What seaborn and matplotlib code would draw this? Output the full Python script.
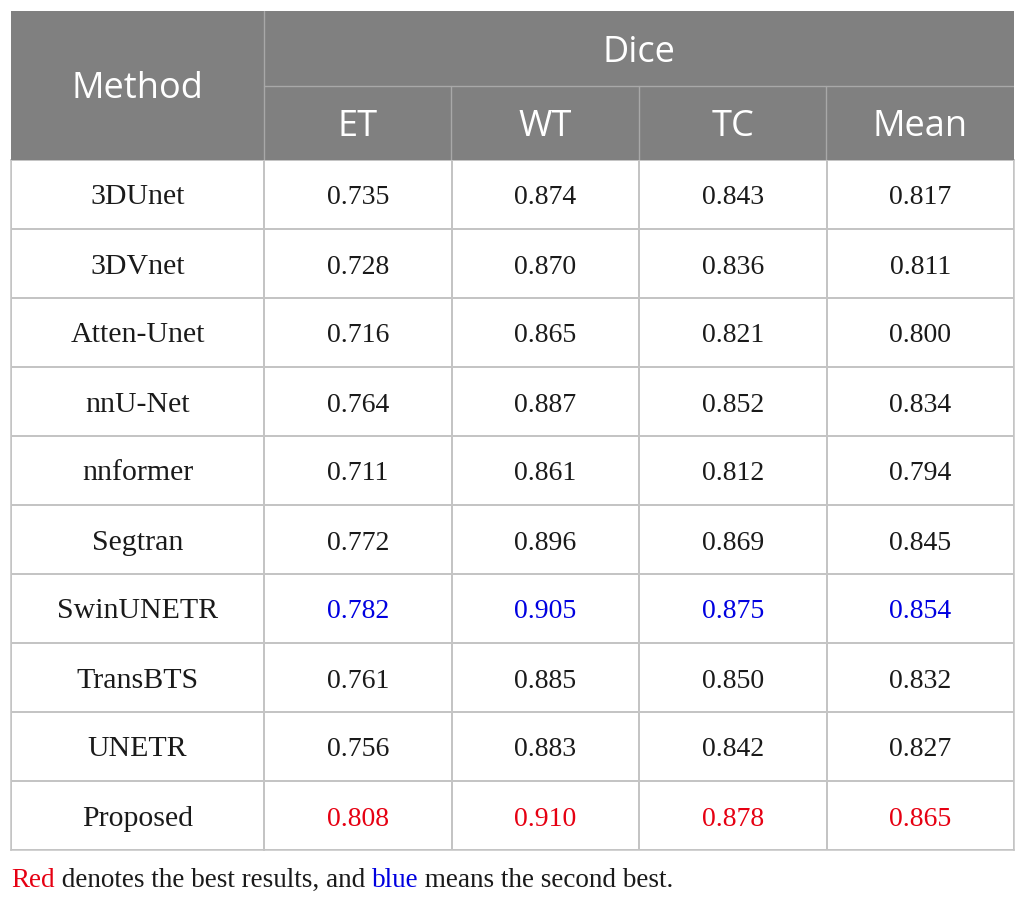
import numpy as np
import pandas as pd
import seaborn as sns
import matplotlib.pyplot as plt
from matplotlib.colors import ListedColormap
from matplotlib.patches import Rectangle

methods = ["3DUnet", "3DVnet", "Atten-Unet", "nnU-Net", "nnformer",
           "Segtran", "SwinUNETR", "TransBTS", "UNETR", "Proposed"]
metrics = ["ET", "WT", "TC", "Mean"]
et = [0.735, 0.728, 0.716, 0.764, 0.711, 0.772, 0.782, 0.761, 0.756, 0.808]
wt = [0.874, 0.870, 0.865, 0.887, 0.861, 0.896, 0.905, 0.885, 0.883, 0.910]
tc = [0.843, 0.836, 0.821, 0.852, 0.812, 0.869, 0.875, 0.850, 0.842, 0.878]
mean = [0.817, 0.811, 0.800, 0.834, 0.794, 0.845, 0.854, 0.832, 0.827, 0.865]
highlight = {"Proposed": "#e60012", "SwinUNETR": "#0000e0"}  # best, second best

df = pd.DataFrame({"ET": et, "WT": wt, "TC": tc, "Mean": mean}, index=methods)

sns.set_theme(style="white")
plt.rcParams["font.family"] = ["Liberation Serif", "DejaVu Serif"]

W, H = 1025, 901
fig = plt.figure(figsize=(W / 100, H / 100), dpi=100)

# table frame in pixels
left, right = 11, 1014
col_split = 264
top, head_mid, head_bot, bot = 11, 86, 160, 850
grid_c = "#c4c4c4"
head_bg = "#808080"
head_line = "#a8a8a8"
head_font = ["Open Sans", "DejaVu Sans"]
txt_c = "#1a1a1a"


def px_axes(x0, y0, x1, y1):
    return fig.add_axes([x0 / W, 1 - y1 / H, (x1 - x0) / W, (y1 - y0) / H])


# header
axh = px_axes(left, top, right, head_bot)
axh.set_xlim(left, right)
axh.set_ylim(head_bot, top)
axh.axis("off")
axh.add_patch(Rectangle((left, top), right - left, head_bot - top,
                        facecolor=head_bg, edgecolor="none"))
col_w = (right - col_split) / len(metrics)
axh.plot([col_split, col_split], [top, head_bot], color=head_line, lw=1.0)
axh.plot([col_split, right], [head_mid, head_mid], color=head_line, lw=1.0)
for k in range(1, len(metrics)):
    x = col_split + k * col_w
    axh.plot([x, x], [head_mid, head_bot], color=head_line, lw=1.0)
hkw = dict(color="white", fontsize=26, ha="center", va="baseline", family=head_font)
axh.text((left + col_split) / 2, (top + head_bot) / 2 + 13, "Method", **hkw)
axh.text((col_split + right) / 2, (top + head_mid) / 2 + 13, "Dice", **hkw)
for k, m in enumerate(metrics):
    axh.text(col_split + (k + 0.5) * col_w, (head_mid + head_bot) / 2 + 13, m, **hkw)

# body
white = ListedColormap(["white"])
row_h = (bot - head_bot) / len(methods)
dy = 10 / row_h  # baseline offset from row centre

axm = px_axes(left, head_bot, col_split, bot)
sns.heatmap(np.zeros((len(methods), 1)), ax=axm, cmap=white, cbar=False,
            linewidths=1.1, linecolor=grid_c, xticklabels=False, yticklabels=False)
for i, name in enumerate(methods):
    axm.text(0.5, i + 0.5 + dy, name, ha="center", va="baseline", fontsize=21.5, color=txt_c)

axv = px_axes(col_split, head_bot, right, bot)
sns.heatmap(df, ax=axv, cmap=white, cbar=False, linewidths=1.1, linecolor=grid_c,
            xticklabels=False, yticklabels=False)
for i, name in enumerate(methods):
    c = highlight.get(name, txt_c)
    for j, m in enumerate(metrics):
        axv.text(j + 0.5, i + 0.5 + dy, f"{df.loc[name, m]:.3f}", ha="center",
                 va="baseline", fontsize=20, color=c)

for a in (axm, axv):
    for s in a.spines.values():
        s.set_visible(True)
        s.set_color(grid_c)
        s.set_linewidth(1.1)
axh.set_zorder(3)

# footnote, pieces chained one after another
pieces = [("Red", highlight["Proposed"]), (" denotes the best results, and ", txt_c),
          ("blue", highlight["SwinUNETR"]), (" means the second best.", txt_c)]
fig.canvas.draw()
renderer = fig.canvas.get_renderer()
x = 11
for s, c in pieces:
    t = fig.text(x / W, 1 - 887 / H, s, color=c, fontsize=19.5, va="baseline")
    x += t.get_window_extent(renderer).width

fig.savefig("out.png", dpi=100)
